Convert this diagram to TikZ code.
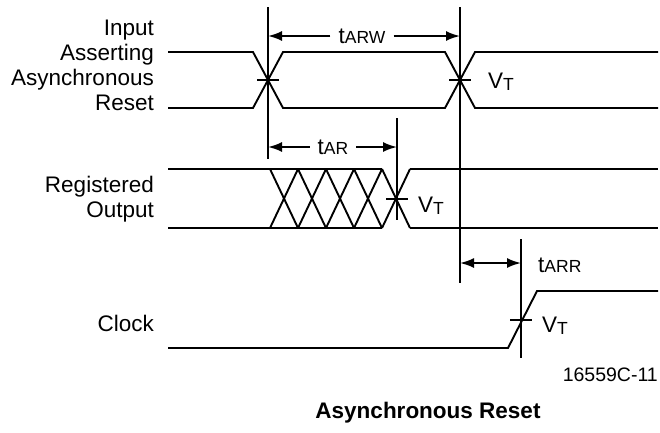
\documentclass[tikz,border=0pt]{standalone}
\usepackage{fontspec}
\setmainfont{Liberation Sans}
\usetikzlibrary{arrows.meta}

\newcommand{\sublbl}[1]{{\fontsize{17.5}{18}\selectfont #1}}
\newcommand{\vtlbl}{V\raisebox{-2pt}{\sublbl{T}}}

\tikzset{
  wave/.style={line width=1.9pt, line join=miter},
  guide/.style={line width=1.9pt},
  vtick/.style={line width=1.9pt},
  dimline/.style={line width=1.9pt, -{Latex[length=14pt,width=10pt]}},
  sigtext/.style={font=\fontsize{22.5}{25}\selectfont, align=right, anchor=east, inner sep=0pt},
  lbl/.style={font=\fontsize{22.5}{25}\selectfont, inner sep=0pt}
}

\begin{document}
\begin{tikzpicture}[x=1pt,y=-1pt]
\useasboundingbox (0,0) rectangle (660,432);

% signal names
\node[sigtext] (reset) at (154,65) {Input\\Asserting\\Asynchronous\\Reset};
\node[sigtext] (regout) at (154,199) {Registered\\Output};
\node[sigtext] (clock) at (154,323) {Clock};

% reset input
\draw[wave] (168,52) -- (253,52) -- (283,108) -- (445,108) -- (475,52) -- (658,52);
\draw[wave] (168,108) -- (253,108) -- (283,52) -- (445,52) -- (475,108) -- (658,108);

% registered output
\draw[wave] (168,169) -- (382,169);
\draw[wave] (168,228) -- (382,228);
\foreach \x in {270,298,...,382}
{
\draw[wave] (\x,169) -- (\x+28,228);
\draw[wave] (\x,228) -- (\x+28,169);
}
\draw[wave] (410,169) -- (658,169);
\draw[wave] (410,228) -- (658,228);

% clock
\draw[wave] (168,348) -- (508,348) -- (537,291) -- (658,291);

% reference lines
\coordinate (g1top) at (268,7);
\coordinate (g1bot) at (268,159);
\coordinate (g2top) at (460,7);
\coordinate (g2bot) at (460,283);
\coordinate (g3top) at (397,118);
\coordinate (g3bot) at (397,220);
\coordinate (g4top) at (521,239);
\coordinate (g4bot) at (521,358);
\draw[guide] (g1top) -- (g1bot);
\draw[guide] (g2top) -- (g2bot);
\draw[guide] (g3top) -- (g3bot);
\draw[guide] (g4top) -- (g4bot);

% threshold ticks
\foreach \x/\y in {268/80, 460/80, 397/199, 521/320}
\draw[vtick] (\x-11,\y) -- (\x+11,\y);

% timing arrows
\node[lbl, inner xsep=8pt] (tarw) at (362,36) {t\sublbl{ARW}};
\coordinate (arwL) at (268,36);
\coordinate (arwR) at (460,36);
\draw[dimline] (tarw.west) -- (arwL);
\draw[dimline] (tarw.east) -- (arwR);

\node[lbl, inner xsep=8pt] (tar) at (333,147) {t\sublbl{AR}};
\coordinate (arL) at (268,147);
\coordinate (arR) at (397,147);
\draw[dimline] (tar.west) -- (arL);
\draw[dimline] (tar.east) -- (arR);

\coordinate (arrL) at (460,263);
\coordinate (arrR) at (521,263);
\draw[dimline, {Latex[length=14pt,width=10pt]}-{Latex[length=14pt,width=10pt]}] (arrL) -- (arrR);
\node[lbl, anchor=west] (tarr) at (538,265) {t\sublbl{ARR}};

% threshold labels
\node[lbl, anchor=west] (vt1) at (488,82) {\vtlbl};
\node[lbl, anchor=west] (vt2) at (418,206) {\vtlbl};
\node[lbl, anchor=west] (vt3) at (542,326) {\vtlbl};

\node[lbl, font=\fontsize{19.5}{22}\selectfont, anchor=east] (figid) at (658,375) {16559C-11};
\node[lbl, font=\fontsize{22.5}{25}\selectfont\bfseries] (title) at (428,413) {Asynchronous Reset};
\end{tikzpicture}
\end{document}
